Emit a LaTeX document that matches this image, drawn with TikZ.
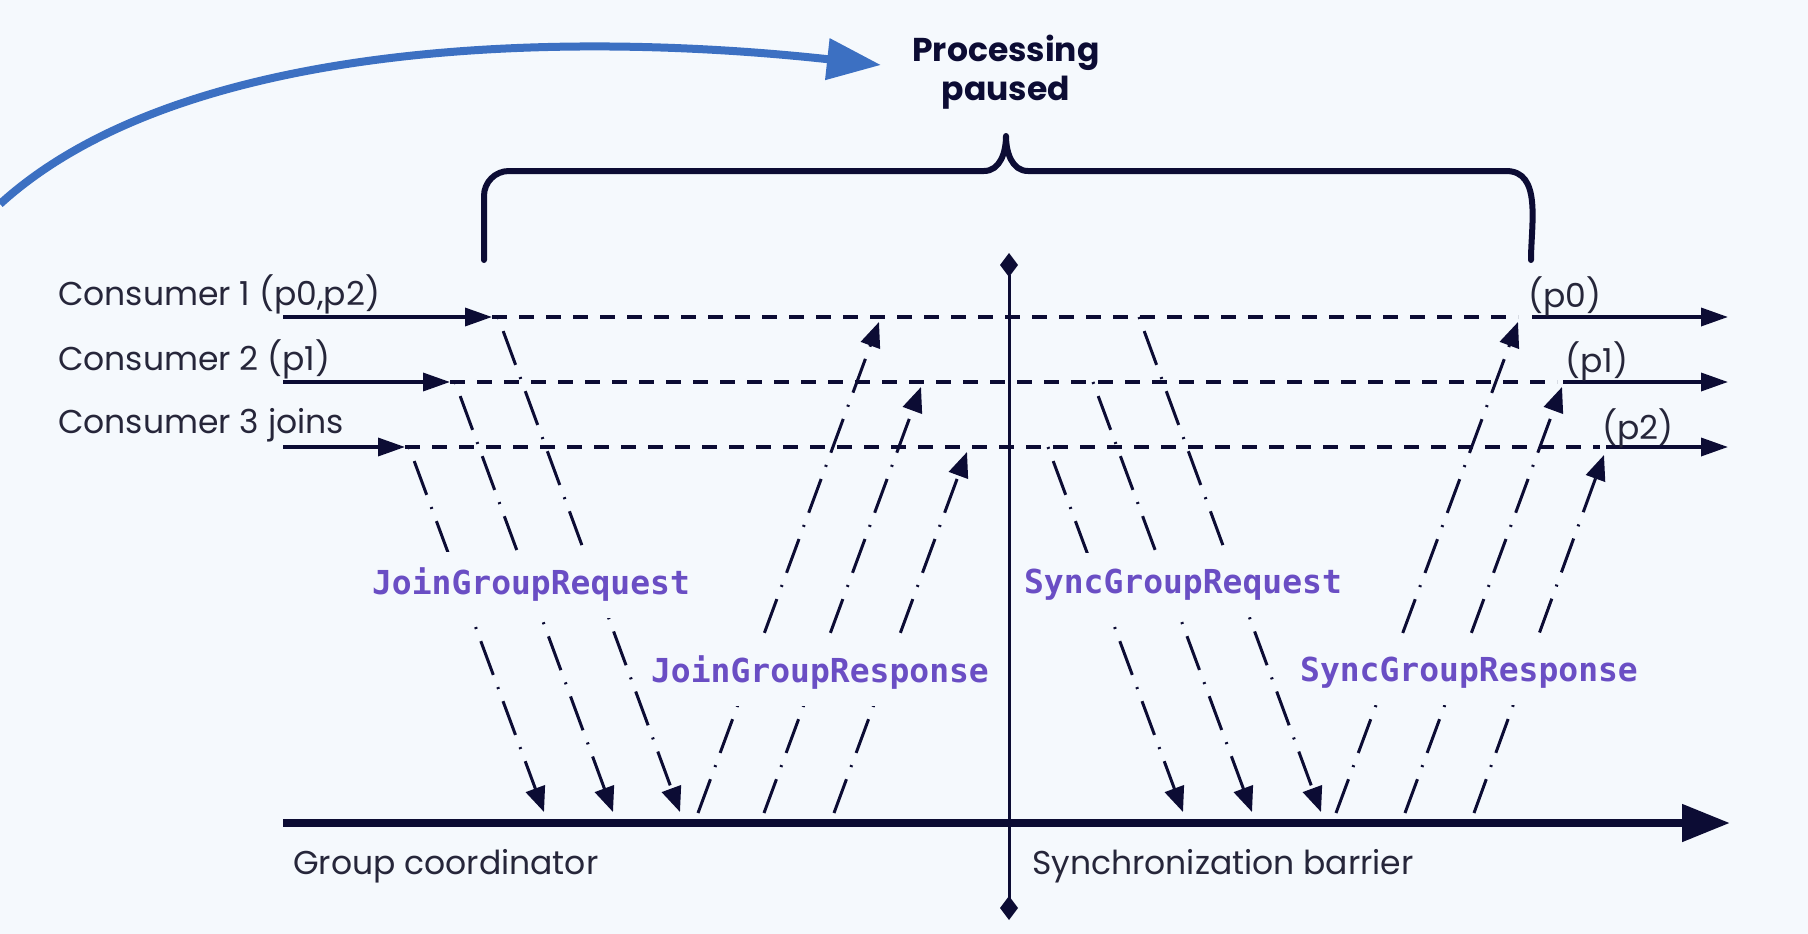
\documentclass[tikz,border=0pt]{standalone}
\usepackage{fontspec}
\setmainfont{Poppins}
\newfontfamily\msgfont{DejaVu Sans Mono}
\usetikzlibrary{arrows.meta}

\definecolor{bg}{RGB}{245,249,253}
\definecolor{ink}{RGB}{12,12,52}
\definecolor{txt}{RGB}{38,38,58}
\definecolor{msgc}{RGB}{106,78,196}
\definecolor{flow}{RGB}{60,112,194}

\begin{document}
\begin{tikzpicture}[x=1pt, y=-1pt,
            cons/.style={ink, line width=3.5pt, -{Triangle[length=27pt,width=18pt]}},
            lane/.style={ink, line width=3.5pt, dash pattern=on 15pt off 12pt},
            req/.style={ink, line width=3pt, dash pattern=on 2pt off 13pt on 36pt off 13pt,
                -{Triangle[length=25pt,width=20pt]}},
            resp/.style={ink, line width=3pt, dash pattern=on 36pt off 13pt on 2pt off 13pt,
                -{Triangle[length=25pt,width=20pt]}},
            axis/.style={ink, line width=8pt, -{Triangle[length=48pt,width=36pt]}},
            brace/.style={ink, line width=6pt, line cap=round, line join=round},
            lbl/.style={txt, inner sep=0pt, font={\fontsize{33}{38}\selectfont}},
            msg/.style={msgc, fill=bg, inner xsep=2pt, inner ysep=16pt,
                font={\msgfont\bfseries\fontsize{33}{38}\selectfont}}
        ]
        \fill[bg] (0,0) rectangle (1808,934);
        \useasboundingbox (0,0) rectangle (1808,934);

        % title and the arrow into it
        \node[ink, align=center, font={\bfseries\fontsize{33}{39}\selectfont}] (title)
            at (1006,72) {Processing\\paused};
        \coordinate (fs) at (0,204);
        \coordinate (ft) at (881,65);
        \draw[flow, line width=8pt, -{Triangle[length=54pt,width=40pt]}]
            (fs) .. controls (180,40) and (560,30) .. (ft);

        % brace over the paused part
        \coordinate (bl) at (484,260);
        \coordinate (br) at (1531,260);
        \draw[brace] (bl) -- (484,196) to[out=90, in=180] (509,171) -- (984,171)
            to[out=0, in=-90] (1006,136) to[out=-90, in=180] (1028,171) -- (1506,171)
            to[out=0, in=90] (br);

        % barrier
        \coordinate (bt) at (1009,253);
        \coordinate (bb) at (1009,920);
        \draw[ink, line width=3pt, {Diamond[length=24pt,width=18pt]}-{Diamond[length=24pt,width=18pt]}]
            (bt) -- (bb);

        % consumers: name, y, arrow tip, dashes end, restart
        \foreach \i/\y/\a/\d/\s in {1/317/492/1518/1532, 2/382/450/1557/1563, 3/447/405/1600/1606} {
            \coordinate (l\i) at (283,\y);
            \coordinate (a\i) at (\a,\y);
            \coordinate (d\i) at (\d,\y);
            \coordinate (s\i) at (\s,\y);
            \coordinate (e\i) at (1728,\y);
            \draw[cons] (l\i) -- (a\i);
            \draw[lane] (a\i) -- (d\i);
            \draw[cons] (s\i) -- (e\i);
        }
        \node[lbl, anchor=west] (c1) at (58,294) {Consumer 1 (p0,p2)};
        \node[lbl, anchor=west] (c2) at (58,359) {Consumer 2 (p1)};
        \node[lbl, anchor=west] (c3) at (58,425) {Consumer 3 joins};
        \node[lbl] (p0) at (1565,296) {(p0)};
        \node[lbl] (p1) at (1597,361) {(p1)};
        \node[lbl] (p2) at (1638,428) {(p2)};

        % coordinator
        \coordinate (gs) at (283,823);
        \coordinate (ge) at (1730,823);
        \draw[axis] (gs) -- (ge);
        \node[lbl, anchor=west] (gc) at (293,866) {Group coordinator};
        \node[lbl, anchor=west] (sb) at (1032,866) {Synchronization barrier};

        % requests down, responses up
        \foreach \n/\x/\y/\u in {jq3/409/447/544, jq2/455/382/613, jq1/498/317/680,
                                 sq3/1048/447/1183, sq2/1093/382/1252, sq1/1139/317/1321} {
            \coordinate (\n a) at (\x,\y);
            \coordinate (\n b) at (\u,812);
            \draw[req] (\n a) -- (\n b);
        }
        \foreach \n/\u/\x/\y in {jr1/698/879/322, jr2/764/921/387, jr3/834/967/452,
                                 sr1/1336/1518/322, sr2/1405/1562/387, sr3/1474/1604/455} {
            \coordinate (\n a) at (\u,813);
            \coordinate (\n b) at (\x,\y);
            \draw[resp] (\n a) -- (\n b);
        }

        \node[msg] (jreq) at (531,585) {JoinGroupRequest};
        \node[msg] (jresp) at (820,673) {JoinGroupResponse};
        \node[msg] (sreq) at (1183,585) {SyncGroupRequest};
        \node[msg] (sresp) at (1469,673) {SyncGroupResponse};
    \end{tikzpicture}
\end{document}
